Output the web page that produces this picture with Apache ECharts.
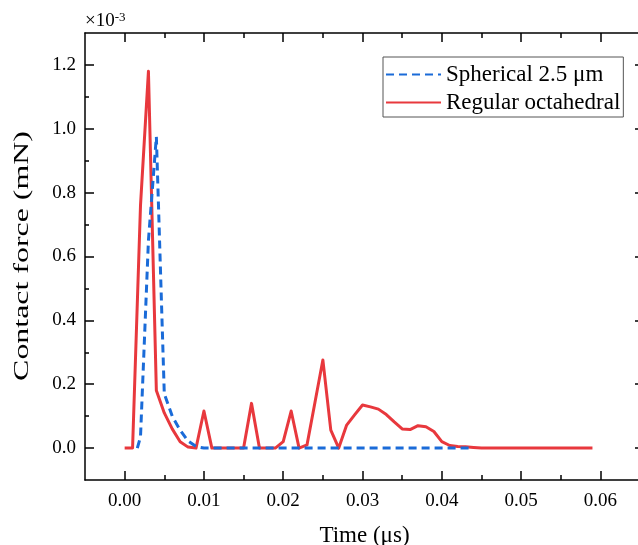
<!DOCTYPE html>
<html><head><meta charset="utf-8">
<script src="https://cdn.jsdelivr.net/npm/echarts@6/dist/echarts.min.js"></script>
<style>html,body{margin:0;padding:0;background:#fff}#c{width:638px;height:545px}</style>
</head><body><div id="c"></div>
<script>
// Data (force in units of 1e-3 mN, time in µs)
const redTime = [0,0.001,0.002,0.003,0.004,0.005,0.006,0.007,0.008,0.009,
  0.010,0.011,0.012,0.013,0.014,0.015,0.016,0.017,0.018,0.019,
  0.020,0.021,0.022,0.023,0.024,0.025,0.026,0.027,0.028,0.029,
  0.030,0.031,0.032,0.033,0.034,0.035,0.036,0.037,0.038,0.039,
  0.040,0.041,0.042,0.043,0.044,0.045,0.046,0.047,0.048,0.049,
  0.050,0.051,0.052,0.053,0.054,0.055,0.056,0.057,0.058,0.059];
const redForce = [0,0,0.76,1.18,0.18,0.11,0.06,0.02,0.003,0,
  0.116,0,0,0,0,0,0.14,0,0,0,
  0.02,0.116,0,0.01,0.143,0.276,0.056,0,0.072,0.104,
  0.135,0.129,0.122,0.105,0.082,0.06,0.058,0.07,0.067,0.052,
  0.02,0.008,0.005,0.004,0.002,0,0,0,0,0,
  0,0,0,0,0,0,0,0,0,0];
const blueTime = [0.0016,0.002,0.003,0.004,0.005,0.006,0.007,0.008,0.009,
  0.010,0.011,0.012,0.013,0.014,0.015,0.016,0.017,0.018,0.019,
  0.020,0.021,0.022,0.023,0.024,0.025,0.026,0.027,0.028,0.029,
  0.030,0.031,0.032,0.033,0.034,0.035,0.036,0.037,0.038,0.039,
  0.040,0.041,0.042,0.043,0.044];
const blueForce = [0,0.035,0.65,0.975,0.17,0.10,0.056,0.022,0.005,
  0,0,0,0,0,0,0,0,0,0,
  0,0,0,0,0,0,0,0,0,0,
  0,0,0,0,0,0,0,0,0,0,
  0,0,0,0,0];
const xMajorTicks = [0,0.01,0.02,0.03,0.04,0.05,0.06];
const xMinorTicks = [0.005,0.015,0.025,0.035,0.045,0.055];
const yMajorTicks = [0,0.2,0.4,0.6,0.8,1.0,1.2];
const yMinorTicks = [0.1,0.3,0.5,0.7,0.9,1.1];
const seriesNames = ['Spherical 2.5 μm','Regular octahedral'];

const FONT = 'Liberation Serif';
const BLACK = '#000';
const line = {color: BLACK, width: 1.5};
const gridRect = {left: 85, top: 33, width: 559, height: 447, outerBoundsMode: 'none', containLabel: false};
const xr = {min: -0.005, max: 0.0655};
const yr = {min: -0.1, max: 1.3};

function xAx(grid, pos, ticks, len, showLabel, extra) {
  return Object.assign({
    type: 'value', gridIndex: grid, position: pos, min: xr.min, max: xr.max,
    axisLine: {show: grid === 0, onZero: false, lineStyle: line},
    axisTick: {show: true, inside: true, length: len, customValues: ticks, lineStyle: line},
    axisLabel: {show: showLabel, customValues: ticks, formatter: v => v.toFixed(2),
      fontFamily: FONT, fontSize: 19, color: BLACK, margin: 12},
    splitLine: {show: false}
  }, extra || {});
}
function yAx(grid, pos, ticks, len, showLabel) {
  return {
    type: 'value', gridIndex: grid, position: pos, min: yr.min, max: yr.max,
    axisLine: {show: grid === 0, onZero: false, lineStyle: line},
    axisTick: {show: true, inside: true, length: len, customValues: ticks, lineStyle: line},
    axisLabel: {show: showLabel, customValues: ticks, formatter: v => v.toFixed(1),
      fontFamily: FONT, fontSize: 19, color: BLACK, margin: 9},
    splitLine: {show: false}
  };
}

const chart = echarts.init(document.getElementById('c'), null, {renderer: 'canvas'});
chart.setOption({
  animation: false,
  backgroundColor: '#fff',
  grid: [Object.assign({}, gridRect), Object.assign({}, gridRect)],
  xAxis: [
    xAx(0, 'bottom', xMajorTicks, 9, true, {
      name: 'Time (μs)', nameLocation: 'middle', nameGap: 44,
      nameTextStyle: {fontFamily: FONT, fontSize: 23, color: BLACK, verticalAlign: 'top'}
    }),
    xAx(0, 'top', xMajorTicks, 9, false),
    xAx(1, 'bottom', xMinorTicks, 5, false),
    xAx(1, 'top', xMinorTicks, 5, false)
  ],
  yAxis: [
    yAx(0, 'left', yMajorTicks, 9, true),
    yAx(0, 'right', yMajorTicks, 9, false),
    yAx(1, 'left', yMinorTicks, 4, false),
    yAx(1, 'right', yMinorTicks, 4, false)
  ],
  legend: {
    data: seriesNames,
    orient: 'vertical', left: 383, top: 57,
    itemWidth: 55, itemHeight: 14, itemGap: 5,
    padding: [6, 3, 3, 2],
    borderColor: '#555', borderWidth: 1, backgroundColor: '#fff',
    itemStyle: {opacity: 0},
    textStyle: {fontFamily: FONT, fontSize: 23, color: BLACK}
  },
  graphic: [
    {type: 'text', left: 85, top: 11, style: {
      text: '{a|×10}{b|-3}', rich: {
        a: {fontFamily: FONT, fontSize: 19, fill: BLACK},
        b: {fontFamily: FONT, fontSize: 13, fill: BLACK, verticalAlign: 'top', padding: [0,0,8,0]}
      }}},
    {type: 'text', x: 22, y: 256, rotation: Math.PI / 2, scaleX: 1.45, scaleY: 1,
      style: {text: 'Contact force (mN)', fontFamily: FONT, fontSize: 22, fill: BLACK,
        align: 'center', verticalAlign: 'middle'}}
  ],
  series: [
    {name: seriesNames[1], type: 'line', xAxisIndex: 0, yAxisIndex: 0, symbol: 'none',
      data: redTime.map((t, i) => [t, redForce[i]]),
      lineStyle: {color: '#E8383D', width: 3, join: 'round'}, itemStyle: {color: '#E8383D'}, z: 2},
    {name: seriesNames[0], type: 'line', xAxisIndex: 0, yAxisIndex: 0, symbol: 'none',
      data: blueTime.map((t, i) => [t, blueForce[i]]),
      lineStyle: {color: '#1A6BD8', width: 3, type: [8, 5]}, itemStyle: {color: '#1A6BD8'}, z: 3}
  ]
});
</script></body></html>
